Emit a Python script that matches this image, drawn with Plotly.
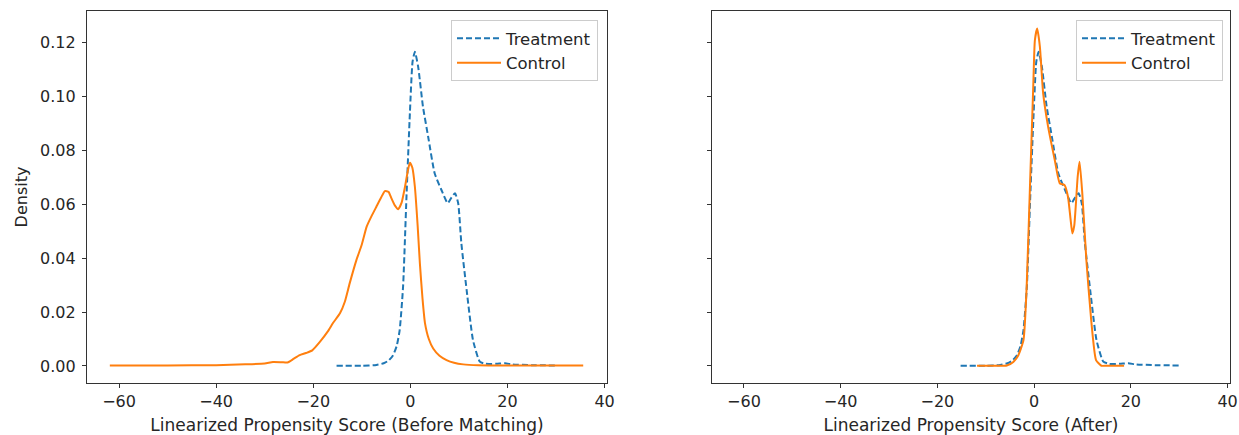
import plotly.graph_objects as go

# ---- data ----
treat_x = [-15.2, -10, -7, -5.5, -4.5, -3.55, -2.8, -2.2, -1.5, -0.8, -0.1, 0.45, 0.93, 1.6, 2.6,
           3.67, 5.0, 6.4, 7.7, 8.5, 9.2, 9.85, 10.5, 11.6, 12.9, 14.3, 15.5, 17.7, 19.5, 21, 25, 30]
treat_y = [0.0001, 0.0001, 0.0004, 0.0010, 0.0020, 0.0040, 0.0075, 0.0133, 0.0294, 0.0627, 0.0936,
           0.1127, 0.1164, 0.1109, 0.0960, 0.0849, 0.0714, 0.0652, 0.0603, 0.0625, 0.0640, 0.0603,
           0.0455, 0.0280, 0.0096, 0.0016, 0.0008, 0.0008, 0.0010, 0.0006, 0.0003, 0.0002]

ctrl_before_x = [-61.9, -50, -40, -34, -30, -28.3, -26.5, -25.3, -24.0, -22.8, -21.5, -20.2, -18.6,
                 -17.0, -15.9, -14.5, -13.5, -12.5, -11.1, -10.0, -9.0, -8.0, -7.0, -6.0, -5.25,
                 -4.5, -3.9, -3.2, -2.5, -1.8, -1.1, -0.5, -0.1, 0.4, 0.93, 1.5, 1.96, 2.5, 3.0,
                 3.8, 4.7, 6.0, 7.45, 9.0, 10.9, 14, 20, 28, 35.6]
ctrl_before_y = [0.0002, 0.0002, 0.0003, 0.0006, 0.0009, 0.0015, 0.0014, 0.0013, 0.0027, 0.0040,
                 0.0048, 0.0058, 0.0090, 0.0128, 0.0160, 0.0195, 0.0238, 0.0306, 0.0393, 0.0450,
                 0.0516, 0.0555, 0.0590, 0.0625, 0.0648, 0.0645, 0.0621, 0.0595, 0.0581, 0.0605,
                 0.0664, 0.0725, 0.0753, 0.0735, 0.0664, 0.0520, 0.0380, 0.0250, 0.0160, 0.0100,
                 0.0065, 0.0038, 0.0022, 0.0012, 0.0006, 0.0003, 0.0002, 0.0002, 0.0002]

ctrl_after_x = [-11.8, -8, -5.65, -4.3, -3.26, -2.2, -1.54, -0.86, -0.18, 0.16, 0.64, 1.19, 1.87,
                2.9, 4.27, 5.3, 6.3, 7.0, 7.5, 7.9, 8.3, 8.6, 9.0, 9.4, 9.96, 10.8, 11.8, 12.8,
                13.9, 15, 18.6]
ctrl_after_y = [0.0001, 0.0001, 0.0002, 0.0015, 0.0040, 0.0096, 0.0294, 0.0664, 0.1035, 0.1207,
                0.1250, 0.1183, 0.1010, 0.0886, 0.0763, 0.0677, 0.0670, 0.0627, 0.0550, 0.0491,
                0.0520, 0.0590, 0.0700, 0.0757, 0.0640, 0.0393, 0.0170, 0.0022, 0.0001, 0.0001,
                0.0001]

x_ticks = [-60, -40, -20, 0, 20, 40]
y_ticks = [0.00, 0.02, 0.04, 0.06, 0.08, 0.10, 0.12]
x_titles = ["Linearized Propensity Score (Before Matching)", "Linearized Propensity Score (After)"]
y_title = "Density"

BLUE = "#1f77b4"
ORANGE = "#ff7f0e"
FONT = "DejaVu Sans"
TXT = "#262626"
W, H = 1239, 435

fig = go.Figure()
dash = "6px,3px"
fig.add_trace(go.Scatter(x=treat_x, y=treat_y, mode="lines", name="Treatment",
                         line=dict(color=BLUE, width=2, dash=dash, shape="spline", smoothing=0.5),
                         xaxis="x", yaxis="y", legend="legend"))
fig.add_trace(go.Scatter(x=ctrl_before_x, y=ctrl_before_y, mode="lines", name="Control",
                         line=dict(color=ORANGE, width=2, shape="spline", smoothing=0.5),
                         xaxis="x", yaxis="y", legend="legend"))
fig.add_trace(go.Scatter(x=treat_x, y=treat_y, mode="lines", name="Treatment",
                         line=dict(color=BLUE, width=2, dash=dash, shape="spline", smoothing=0.5),
                         xaxis="x2", yaxis="y2", legend="legend2"))
fig.add_trace(go.Scatter(x=ctrl_after_x, y=ctrl_after_y, mode="lines", name="Control",
                         line=dict(color=ORANGE, width=2, shape="spline", smoothing=0.5),
                         xaxis="x2", yaxis="y2", legend="legend2"))

axis_common = dict(showgrid=False, zeroline=False, showline=True, mirror=True,
                   linecolor="#333333", linewidth=1.2, ticks="outside", ticklen=4,
                   tickwidth=1, tickcolor="#333333", automargin=False,
                   tickfont=dict(family=FONT, size=16, color=TXT))

xr = [-66.6, 40.5]
yr = [-0.0063, 0.1315]
ydom = [1 - 383 / H, 1 - 11 / H]
tfont = dict(family=FONT, size=16, color=TXT)
titlefont = dict(family=FONT, size=17, color=TXT)
legend_common = dict(yanchor="top", xanchor="right", bordercolor="#cccccc", borderwidth=1,
                     bgcolor="rgba(255,255,255,0.8)", itemwidth=44,
                     font=dict(family=FONT, size=16.5, color=TXT))

fig.update_layout(
    width=W, height=H,
    margin=dict(l=0, r=0, t=0, b=0),
    paper_bgcolor="white", plot_bgcolor="white",
    font=tfont,
    xaxis=dict(domain=[87 / W, 607 / W], range=xr, tickvals=x_ticks, anchor="y",
               title=dict(text=x_titles[0], font=titlefont, standoff=8), **axis_common),
    xaxis2=dict(domain=[712 / W, 1230 / W], range=xr, tickvals=x_ticks, anchor="y2",
                title=dict(text=x_titles[1], font=titlefont, standoff=8), **axis_common),
    yaxis=dict(domain=ydom, range=yr, tickvals=y_ticks, tickformat=".2f", anchor="x",
               ticklabelstandoff=3,
               title=dict(text=y_title, font=tfont, standoff=8), **axis_common),
    yaxis2=dict(domain=ydom, range=yr, tickvals=y_ticks, showticklabels=False, anchor="x2",
                **axis_common),
    legend=dict(x=598 / W, y=1 - 20 / H, **legend_common),
    legend2=dict(x=1223 / W, y=1 - 20 / H, **legend_common),
    showlegend=True,
)

fig.write_html("out.html", config={"displayModeBar": False},
               post_script="document.body.style.margin='0';document.body.style.overflow='hidden';")
